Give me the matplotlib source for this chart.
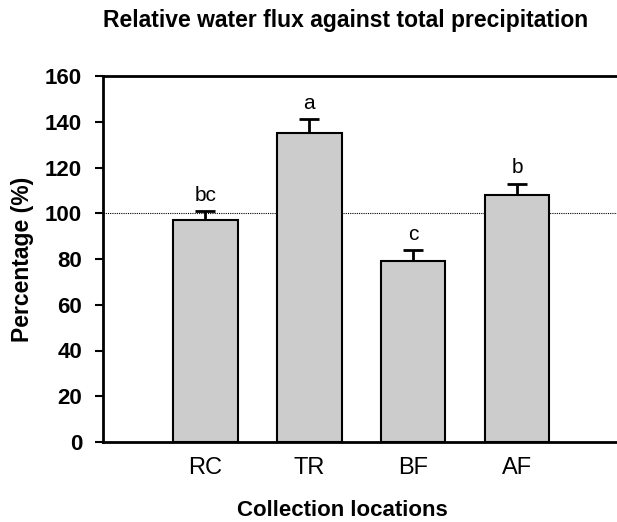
import matplotlib
matplotlib.use("Agg")
import matplotlib.pyplot as plt

categories = ["RC", "TR", "BF", "AF"]
values = [97, 135, 79, 108]
errors = [4, 6, 5, 5]
letters = ["bc", "a", "c", "b"]
yticks = [0, 20, 40, 60, 80, 100, 120, 140, 160]

plt.rcParams['font.family'] = ['Liberation Sans', 'DejaVu Sans']

fig = plt.figure(figsize=(6.17, 5.22), dpi=100)
ax = fig.add_axes([103/617, 80/522, 1 - 103/617, (442-76)/522])

x = list(range(len(categories)))
ax.bar(x, values, width=0.62, color='#cccccc', edgecolor='black', linewidth=1.5, zorder=3)
ax.errorbar(x, values, yerr=errors, fmt='none', ecolor='black',
            elinewidth=2, capsize=7, capthick=2, zorder=2)
for xi, v, e, l in zip(x, values, errors, letters):
    ax.text(xi, v + e + 4.5, l, ha='center', va='baseline', fontsize=15)

ax.axhline(100, color='black', linestyle=(0, (1, 1)), linewidth=0.8, zorder=1)

ax.set_xlim(-0.985, 3.96)
ax.set_ylim(0, 160)
ax.set_yticks(yticks)
ax.set_yticklabels([str(t) for t in yticks], fontsize=16, fontweight='bold')
ax.set_xticks(x)
ax.set_xticklabels(categories, fontsize=17)
ax.tick_params(axis='x', length=0, pad=11)
ax.tick_params(axis='y', length=6, width=1.5, direction='out', pad=9)
for s in ['left', 'bottom', 'top']:
    ax.spines[s].set_linewidth(2)
ax.spines['right'].set_visible(False)

fig.text(23/617, ((522-442) + (522-76)) / 2 / 522, "Percentage (%)", rotation=90,
         ha='center', va='center', fontsize=16.5, fontweight='bold')
fig.text(342/617, 1 - 510/522, "Collection locations", ha='center', va='center',
         fontsize=16, fontweight='bold')
fig.text(346/617, 1 - 20/522, "Relative water flux against total precipitation",
         ha='center', va='center', fontsize=16.5, fontweight='bold')

fig.savefig("out.png", dpi=100)
